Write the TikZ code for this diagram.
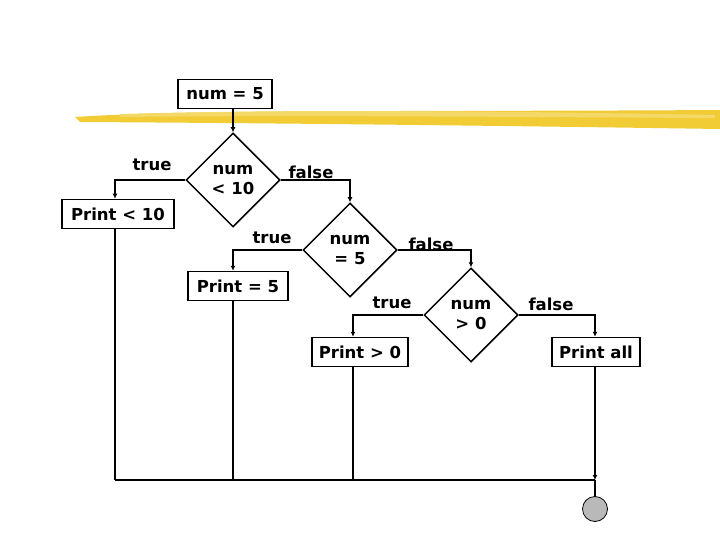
\documentclass[tikz,border=0pt]{standalone}
\usepackage{fontspec}
\setmainfont{DejaVu Sans}
\usetikzlibrary{shapes.geometric,arrows.meta}
\definecolor{brush}{HTML}{F2CC35}
\begin{document}
\begin{tikzpicture}[x=1pt,y=-1pt,
  box/.style={draw,line width=1.5pt,font=\bfseries\fontsize{16.5}{18}\selectfont,inner sep=0pt,minimum height=29pt},
  dia/.style={draw,line width=1.5pt,diamond,minimum width=94pt,minimum height=94pt,inner sep=0pt,align=center,font=\bfseries\fontsize{16.5}{20}\selectfont},
  lbl/.style={font=\bfseries\fontsize{16.5}{18}\selectfont},
  conn/.style={line width=1.5pt,-{Latex[length=5pt,width=5pt]}},
  ln/.style={line width=1.5pt}]
\useasboundingbox (0,0) rectangle (720,540);
\fill[brush] (75,117) .. controls (200,109) and (400,112) .. (720,110) -- (720,129) .. controls (450,125) and (250,123) .. (80,122) -- cycle;
\fill[brush!75!white] (120,114) .. controls (300,109) and (500,111) .. (715,115) -- (715,118) .. controls (500,117) and (300,115) .. (120,117) -- cycle;
\node[box,minimum width=94pt] (start) at (225,94) {num = 5};
\node[dia] (d1) at (233,180) {num\\< 10};
\node[box,minimum width=112pt] (p1) at (118,214) {Print < 10};
\node[dia] (d2) at (350,250) {num\\= 5};
\node[box,minimum width=100pt] (p2) at (238,286) {Print = 5};
\node[dia] (d3) at (471,315) {num\\> 0};
\node[box,minimum width=96pt] (p3) at (360,352) {Print > 0};
\node[box,minimum width=88pt] (p4) at (596,352) {Print all};
\node[circle,draw,fill=gray!55,minimum size=25pt,inner sep=0pt,line width=0.8pt] (end) at (595,509) {};
\node[lbl] (t1) at (152,165) {true};
\node[lbl] (f1) at (311,172) {false};
\node[lbl] (t2) at (272,238) {true};
\node[lbl] (f2) at (431,244) {false};
\node[lbl] (t3) at (392,303) {true};
\node[lbl] (f3) at (551,304) {false};
\coordinate (c1) at (115,480);
\coordinate (c2) at (233,480);
\coordinate (c3) at (353,480);
\coordinate (c4) at (595,480);
\draw[conn] (start.south -| d1.north) -- (d1.north);
\draw[conn] (d1.west) -| (p1.north -| c1);
\draw[conn] (d1.east) -| (d2.north);
\draw[conn] (d2.west) -| (p2.north -| c2);
\draw[conn] (d2.east) -| (d3.north);
\draw[conn] (d3.west) -| (p3.north -| c3);
\draw[conn] (d3.east) -| (p4.north -| c4);
\draw[ln] (p1.south -| c1) -- (c1);
\draw[ln] (p2.south -| c2) -- (c2);
\draw[ln] (p3.south -| c3) -- (c3);
\draw[conn] (p4.south -| c4) -- (c4);
\draw[ln] (c1) -- (c4);
\draw[ln] (c4) -- (end.north);
\end{tikzpicture}
\end{document}
